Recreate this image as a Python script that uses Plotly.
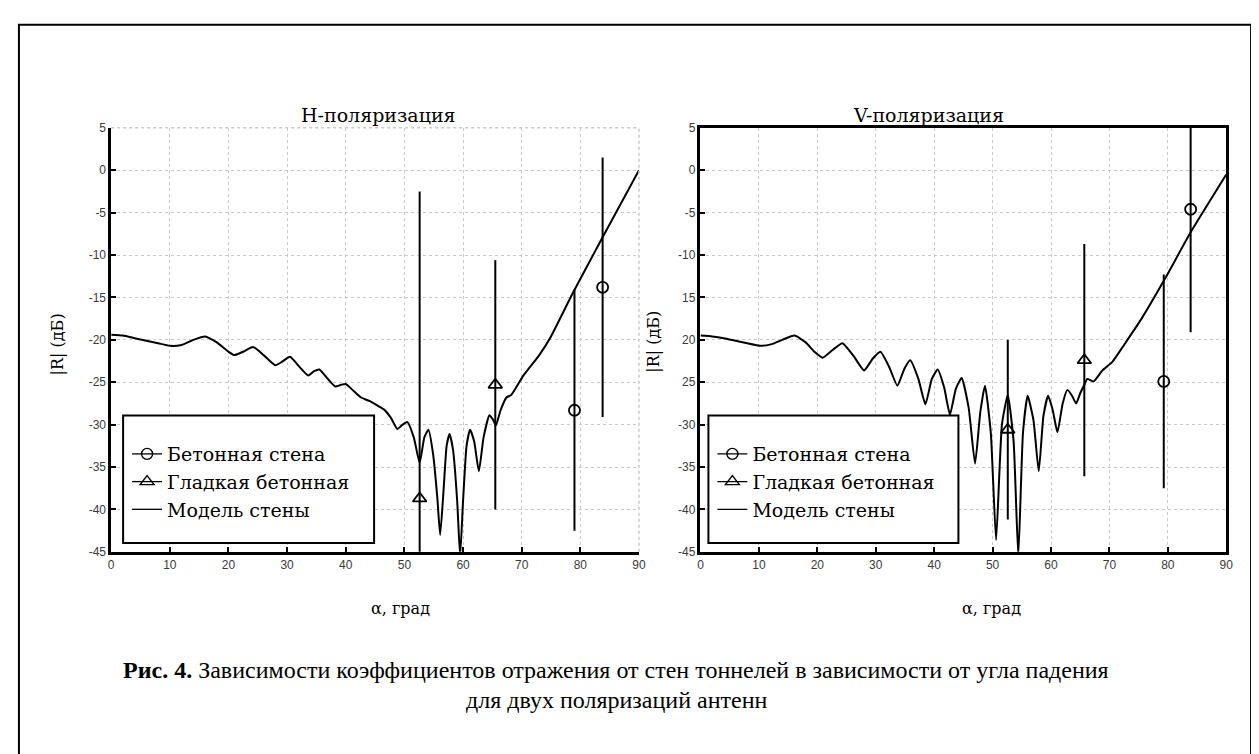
import plotly.graph_objects as go

W, H = 1259, 754

# ---------------- data ----------------
angle_h = [0, 2, 4, 6, 8, 10, 12, 14, 16, 18, 20, 21, 22.5, 24.2, 26, 28, 29.3, 30.5, 32, 33.6,
           34.6, 35.5, 36.8, 38.2, 39.2, 40, 41.3, 42.6, 44, 45.3, 46.5, 47.7, 48.8, 49.7, 50.5,
           51.6, 52.6, 53.4, 54.1, 54.9, 55.6, 56.1, 56.7, 57.2, 57.7, 58.3, 59.0, 59.5, 60.0,
           60.6, 61.2, 61.9, 62.7, 63.5, 64.5, 65.1, 65.6, 66.4, 67.4, 68.2, 70.2, 73.0, 75.0,
           78.7, 83.8, 90]
model_h = [-19.4, -19.5, -19.8, -20.1, -20.4, -20.7, -20.6, -20.0, -19.6, -20.3, -21.4, -21.8,
           -21.4, -20.85, -21.8, -23.0, -22.5, -22.0, -23.1, -24.2, -23.7, -23.5, -24.5, -25.5,
           -25.3, -25.2, -26.0, -26.8, -27.2, -27.7, -28.2, -29.2, -30.5, -30.0, -29.7, -31.5,
           -34.5, -31.5, -30.6, -33.5, -38.5, -43.0, -37.5, -32.5, -31.1, -33.0, -39.0, -45.5,
           -39.0, -32.5, -30.6, -32.0, -35.5, -31.5, -28.9, -29.4, -30.1, -28.3, -26.8, -26.5,
           -24.3, -21.8, -19.6, -14.5, -7.9, 0.0]

angle_v = [0, 2, 4, 6, 8, 10.2, 12.2, 14, 16.1, 18, 19.5, 20.9, 22.6, 24.3, 26.2, 28.0, 29.5,
           30.8, 32.3, 33.7, 34.9, 35.9, 37.3, 38.5, 39.6, 40.6, 41.7, 42.7, 43.7, 44.7, 45.9,
           47.0, 47.9, 48.7, 49.7, 50.6, 51.6, 52.6, 53.6, 54.4, 55.2, 56.0, 57.0, 57.9, 58.7,
           59.5, 60.3, 61.1, 62.0, 62.8, 63.6, 64.3, 65.0, 65.7, 66.2, 67.3, 68.8, 70.5, 72.5,
           75.5, 79.5, 84.0, 90]
model_v = [-19.5, -19.6, -19.8, -20.1, -20.4, -20.7, -20.5, -20.0, -19.5, -20.3, -21.4, -22.1,
           -21.2, -20.4, -21.9, -23.6, -22.2, -21.4, -23.2, -25.4, -23.4, -22.4, -24.6, -27.6,
           -24.6, -23.5, -25.6, -28.8, -25.8, -24.5, -28.0, -34.6, -28.5, -25.4, -31.0, -43.6,
           -30.0, -26.5, -32.0, -45.5, -31.0, -26.6, -29.5, -35.5, -29.0, -26.6, -28.3, -30.9,
           -27.5, -25.9, -26.6, -27.5, -26.3, -25.3, -24.6, -24.9, -23.6, -22.6, -20.6, -17.5,
           -12.8, -7.2, -0.5]

# measurements: "Бетонная стена" (circles) and "Гладкая бетонная" (triangles)
conc_h_x = [79.0, 83.8]
conc_h_y = [-28.3, -13.8]
conc_h_err = [14.2, 15.3]
smooth_h_x = [52.6, 65.5]
smooth_h_y = [-38.7, -25.3]
smooth_h_err = [36.2, 14.7]

conc_v_x = [79.3, 83.9]
conc_v_y = [-24.9, -4.6]
conc_v_err = [12.6, 14.5]
smooth_v_x = [52.6, 65.7]
smooth_v_y = [-30.6, -22.4]
smooth_v_err = [10.6, 13.7]

x_ticks = [0, 10, 20, 30, 40, 50, 60, 70, 80, 90]
y_ticks = [5, 0, -5, -10, -15, -20, -25, -30, -35, -40, -45]
y_ticktext_h = ["5", "0", "-5", "-10", "-15", "-20", "-25", "-30", "-35", "-40", "-45"]
y_ticktext_v = ["5", "0", "-5", "-10", "15", "20", "25", "-30", "-35", "-40", "-45"]

legend_names = ["Бетонная стена", "Гладкая бетонная", "Модель стены"]

# ---------------- geometry helpers ----------------
def px(x):
    return x / W

def py(y):
    return 1 - y / H

WIDE_SERIF = "DejaVu Serif, serif"
TIMES = "Liberation Serif, Times New Roman, serif"
SANS = "Liberation Sans, Arial, sans-serif"

fig = go.Figure()

def add_panel(xa, ya, ax, my, ax_c, ay_c, ec, ax_t, ay_t, et, leg):
    fig.add_trace(go.Scatter(x=ax, y=my, mode="lines", xaxis=xa, yaxis=ya,
                             line=dict(color="black", width=2, shape="spline", smoothing=0.5),
                             showlegend=False, hoverinfo="skip"))
    fig.add_trace(go.Scatter(x=ax_c, y=ay_c, mode="markers", xaxis=xa, yaxis=ya,
                             marker=dict(symbol="circle-open", size=11, color="black",
                                         line=dict(width=1.8, color="black")),
                             error_y=dict(type="data", array=ec, symmetric=True,
                                          color="black", thickness=2, width=0),
                             showlegend=False))
    fig.add_trace(go.Scatter(x=ax_t, y=ay_t, mode="markers", xaxis=xa, yaxis=ya,
                             marker=dict(symbol="triangle-up-open", size=12, color="black",
                                         line=dict(width=1.8, color="black")),
                             error_y=dict(type="data", array=et, symmetric=True,
                                          color="black", thickness=2, width=0),
                             showlegend=False))
    # legend entries
    fig.add_trace(go.Scatter(x=[None], y=[None], mode="lines+markers", xaxis=xa, yaxis=ya,
                             name=legend_names[0], legend=leg,
                             line=dict(color="black", width=1.3),
                             marker=dict(symbol="circle-open", size=11, color="black",
                                         line=dict(width=1.4))))
    fig.add_trace(go.Scatter(x=[None], y=[None], mode="lines+markers", xaxis=xa, yaxis=ya,
                             name=legend_names[1], legend=leg,
                             line=dict(color="black", width=1.3),
                             marker=dict(symbol="triangle-up-open", size=12, color="black",
                                         line=dict(width=1.4))))
    fig.add_trace(go.Scatter(x=[None], y=[None], mode="lines", xaxis=xa, yaxis=ya,
                             name=legend_names[2], legend=leg,
                             line=dict(color="black", width=1.3)))

add_panel("x", "y", angle_h, model_h, conc_h_x, conc_h_y, conc_h_err,
          smooth_h_x, smooth_h_y, smooth_h_err, "legend")
add_panel("x2", "y2", angle_v, model_v, conc_v_x, conc_v_y, conc_v_err,
          smooth_v_x, smooth_v_y, smooth_v_err, "legend2")

ydom = [py(547), py(115)]
common_x = dict(range=[0, 90], tickvals=x_ticks, ticks="inside", ticklen=5, tickwidth=1.5,
                tickcolor="black", showgrid=True, gridcolor="#c9c9c9", griddash="dot",
                gridwidth=1, zeroline=False, showline=True, linecolor="black", linewidth=2.5,
                tickfont=dict(family=SANS, size=12, color="#3a3a3a"), fixedrange=True)
common_y = dict(range=[-45, 5], tickvals=y_ticks, ticks="inside", ticklen=5, tickwidth=1.5,
                tickcolor="black", showgrid=True, gridcolor="#c9c9c9", griddash="dot",
                gridwidth=1, zeroline=False, showline=True, linecolor="black", linewidth=2.5,
                tickfont=dict(family=SANS, size=12, color="#3a3a3a"), fixedrange=True,
                domain=ydom)

fig.update_layout(
    width=W, height=H, autosize=False,
    margin=dict(l=0, r=0, t=0, b=0),
    paper_bgcolor="white", plot_bgcolor="white",
    xaxis=dict(domain=[px(101), px(633)], anchor="y", **common_x),
    yaxis=dict(anchor="x", ticktext=y_ticktext_h, **common_y),
    xaxis2=dict(domain=[px(695), px(1225)], anchor="y2", mirror=True, **common_x),
    yaxis2=dict(anchor="x2", ticktext=y_ticktext_v, mirror=True, **common_y),
    legend=dict(x=px(117), y=py(428), xanchor="left", yanchor="top",
                bgcolor="rgba(0,0,0,0)", borderwidth=0,
                font=dict(family=WIDE_SERIF, size=19, color="black")),
    legend2=dict(x=px(707), y=py(428), xanchor="left", yanchor="top",
                 bgcolor="rgba(0,0,0,0)", borderwidth=0,
                 font=dict(family=WIDE_SERIF, size=19, color="black")),
)

shapes = []
# outer frame
shapes.append(dict(type="rect", xref="paper", yref="paper", x0=px(8), x1=px(1250),
                   y0=-0.05, y1=py(10), line=dict(color="black", width=2),
                   fillcolor="rgba(0,0,0,0)", layer="below"))
# faint top / right border of left panel
shapes.append(dict(type="line", xref="paper", yref="paper", x0=px(101), x1=px(633),
                   y0=py(115), y1=py(115), line=dict(color="#c9c9c9", width=1.5, dash="dot")))
shapes.append(dict(type="line", xref="paper", yref="paper", x0=px(633), x1=px(633),
                   y0=py(547), y1=py(115), line=dict(color="#c9c9c9", width=1.5, dash="dot")))
# legend boxes
for x0, x1 in [(113, 366), (703, 955)]:
    shapes.append(dict(type="rect", xref="paper", yref="paper", x0=px(x0), x1=px(x1),
                       y0=py(538), y1=py(408), line=dict(color="black", width=2),
                       fillcolor="white", layer="above"))
fig.update_layout(shapes=shapes)

ann = []
def text(x, y, s, size=17, family=WIDE_SERIF, angle=0, **kw):
    ann.append(dict(x=px(x), y=py(y), xref="paper", yref="paper", text=s, showarrow=False,
                    textangle=angle, font=dict(family=family, size=size, color="black"),
                    xanchor="center", yanchor="middle", **kw))

text(370, 102, "H-поляризация", size=19)
text(925, 102, "V-поляризация", size=19)
text(47, 336, "|R| (дБ)", size=16, angle=-90)
text(648, 333, "|R| (дБ)", size=16, angle=-90)
text(393, 605, "α, град", size=16)
text(988, 605, "α, град", size=16)
text(610, 667, "<b>Рис. 4.</b> Зависимости коэффициентов отражения от стен тоннелей в зависимости от угла падения",
     size=24, family=TIMES)
text(610, 698, "для двух поляризаций антенн", size=24, family=TIMES)
fig.update_layout(annotations=ann)

fig.write_html("out.html")
